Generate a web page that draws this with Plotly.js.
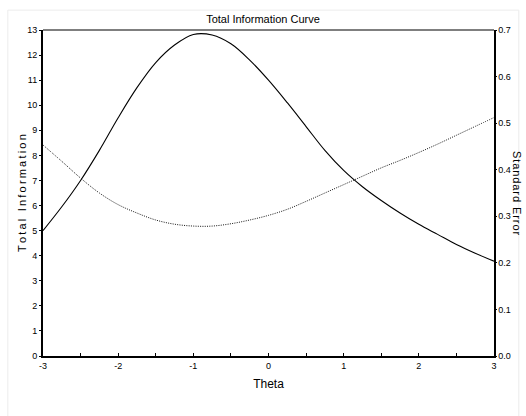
<!DOCTYPE html>
<html>
<head>
<meta charset="utf-8">
<script src="https://cdn.plot.ly/plotly-3.0.1.min.js"></script>
<style>html,body{margin:0;padding:0;background:#fff;}#chart{width:526px;height:416px;}</style>
</head>
<body>
<div id="chart"></div>
<script>
var theta = [-3,-2.75,-2.5,-2.25,-2,-1.75,-1.5,-1.25,-1,-0.75,-0.5,-0.25,0,0.25,0.5,0.75,1,1.25,1.5,1.75,2,2.25,2.5,2.75,3];
var information = [5.0,5.95,7.0,8.2,9.5,10.7,11.7,12.4,12.82,12.8,12.45,11.8,11.0,10.1,9.15,8.2,7.4,6.75,6.2,5.7,5.25,4.85,4.45,4.1,3.78];
var standardError = [0.453,0.418,0.382,0.350,0.325,0.307,0.292,0.283,0.279,0.279,0.284,0.292,0.302,0.315,0.332,0.350,0.368,0.386,0.404,0.420,0.437,0.455,0.474,0.493,0.512];
var leftTicks = [0,1,2,3,4,5,6,7,8,9,10,11,12,13];
var rightTicks = [0,0.1,0.2,0.3,0.4,0.5,0.6,0.7];
var xTicks = [-3,-2,-1,0,1,2,3];

var fnt = "'Liberation Sans Narrow','Liberation Sans',Arial,sans-serif";
var fntW = "'Liberation Sans',Arial,sans-serif";
function spaced(s, sp) { return s.split('').join(sp); }

var traces = [
  {x: theta, y: information, type: 'scatter', mode: 'lines', line: {color: '#000', width: 1.1, shape: 'spline', smoothing: 1}, yaxis: 'y', hoverinfo: 'none'},
  {x: theta, y: standardError, type: 'scatter', mode: 'lines', line: {color: '#111', width: 1, dash: '1px,1.3px', shape: 'spline', smoothing: 1}, yaxis: 'y2', hoverinfo: 'none'}
];

var layout = {
  width: 526, height: 416,
  margin: {l: 43, r: 32, t: 30, b: 60},
  paper_bgcolor: '#fff', plot_bgcolor: '#fff',
  showlegend: false,
  font: {family: fnt, color: '#000', size: 9},
  title: {text: 'Total Information Curve', font: {family: fntW, size: 11, color: '#000'}, x: 0.5, xanchor: 'center', y: 0.955, yanchor: 'middle'},
  xaxis: {
    range: [-3, 3], tickvals: xTicks, ticktext: xTicks.map(String),
    showgrid: false, zeroline: false, showline: true, linecolor: '#000', linewidth: 2, mirror: false,
    ticks: 'inside', ticklen: 3, tickwidth: 1, tickcolor: '#000',
    minor: {dtick: 0.5, ticks: 'inside', ticklen: 3, tickcolor: '#000'},
    tickfont: {size: 9, family: fnt},
    title: {text: 'Theta', font: {size: 12, family: fnt}, standoff: 10}
  },
  yaxis: {
    range: [0, 13], tickvals: leftTicks, ticktext: leftTicks.map(String),
    showgrid: false, zeroline: false, showline: true, linecolor: '#000', linewidth: 2,
    ticks: 'outside', ticklen: 2, tickwidth: 1, tickcolor: '#000',
    tickfont: {size: 9, family: fnt}
  },
  yaxis2: {
    range: [0, 0.7], tickvals: rightTicks, ticktext: rightTicks.map(function(v){return v.toFixed(1);}),
    overlaying: 'y', side: 'right',
    showgrid: false, zeroline: false, showline: true, linecolor: '#000', linewidth: 1.5,
    ticks: 'outside', ticklen: 1, tickwidth: 1, tickcolor: '#000',
    tickfont: {size: 9, family: fnt}
  },
  shapes: [
    {type: 'line', xref: 'paper', yref: 'paper', x0: 0, x1: 1, y0: 1, y1: 1, line: {color: '#555', width: 1.5}},
    {type: 'rect', xref: 'paper', yref: 'paper', x0: -0.078, x1: 1.055, y0: -0.19, y1: 1.061, line: {color: '#ececec', width: 1}, layer: 'below'}
  ],
  annotations: [
    {text: spaced('Total Information', '\u2009'), xref: 'paper', yref: 'paper', x: 0, y: 0.5, xshift: -21, xanchor: 'center', yanchor: 'middle', textangle: -90, showarrow: false, font: {size: 11, family: fntW, color: '#000'}},
    {text: spaced('Standard Error', '\u200A'), xref: 'paper', yref: 'paper', x: 1.0, y: 0.5, xshift: 23, xanchor: 'center', yanchor: 'middle', textangle: 90, showarrow: false, font: {size: 11, family: fntW, color: '#000'}}
  ]
};

Plotly.newPlot('chart', traces, layout, {displayModeBar: false, staticPlot: true});
</script>
</body>
</html>
